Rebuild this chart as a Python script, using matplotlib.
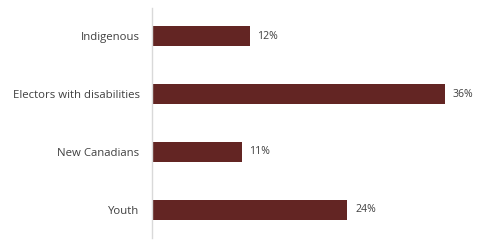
import matplotlib.pyplot as plt

categories = ['Indigenous', 'Electors with disabilities', 'New Canadians', 'Youth']
values = [12, 36, 11, 24]
labels = ['12%', '36%', '11%', '24%']

plt.rcParams['font.family'] = ['Open Sans', 'DejaVu Sans']

fig = plt.figure(figsize=(4.86, 2.45), dpi=100)
ax = fig.add_axes([152 / 486, 1 - 238 / 245, 325.6 / 486, 230 / 245])

y = range(len(categories))
ax.barh(y, values, height=0.35, color='#632523')
for yi, v, lab in zip(y, values, labels):
    ax.text(v + 0.95, yi, lab, va='center', ha='left', fontsize=7.6, color='#404040')

ax.set_xlim(0, 40)
ax.set_ylim(3.483, -0.483)
ax.set_yticks(list(y))
ax.set_yticklabels(categories, fontsize=8.2, color='#404040')
ax.tick_params(axis='y', length=0, pad=9)
ax.set_xticks([])
for s in ['top', 'right', 'bottom']:
    ax.spines[s].set_visible(False)
ax.spines['left'].set_color('#d9d9d9')
ax.spines['left'].set_linewidth(1)

fig.savefig('out.png', dpi=100)
